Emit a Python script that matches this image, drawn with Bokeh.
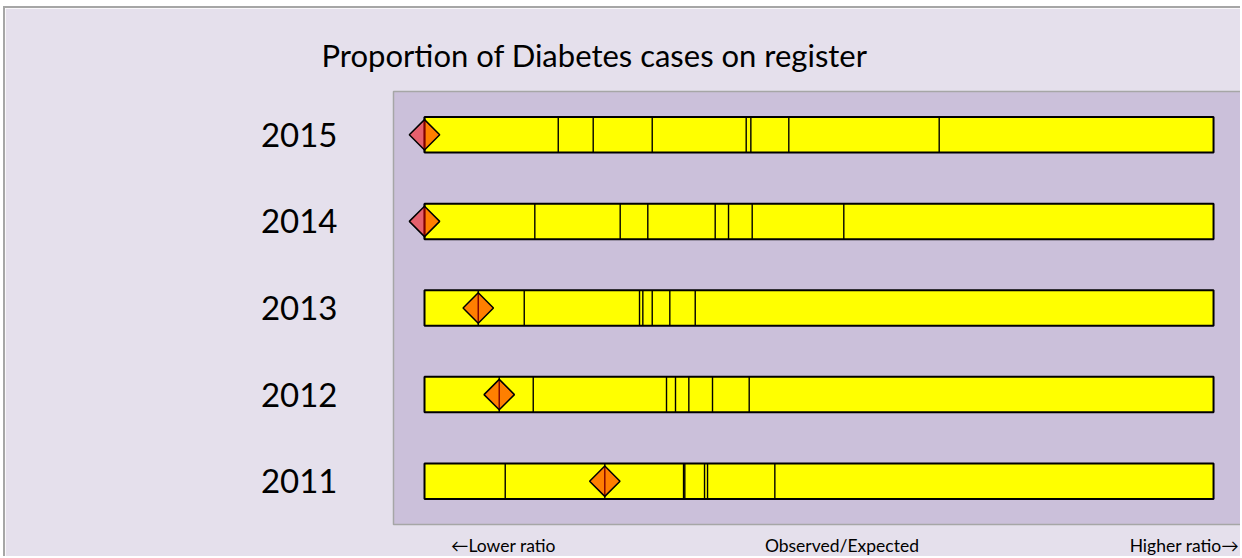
from math import pi
from bokeh.plotting import figure
from bokeh.models import Range1d, FixedTicker
from bokeh.embed import file_html
from bokeh.resources import INLINE

# ---- data (scale: 0 = left end of bar, 100 = right end) ----
years = [2015, 2014, 2013, 2012, 2011]
year_labels = ["2015", "2014", "2013", "2012", "2011"]
bar_start = [0, 0, 0, 0, 0]
bar_end = [100, 100, 100, 100, 100]
bounds_2015 = [16.95, 21.38, 28.86, 40.77, 41.36, 46.17, 65.23]
bounds_2014 = [13.98, 24.80, 28.30, 36.84, 38.53, 41.53, 53.14]
bounds_2013 = [12.64, 27.25, 27.67, 28.86, 31.09, 34.31]
bounds_2012 = [13.78, 30.67, 31.81, 33.50, 36.50, 41.15]
bounds_2011 = [10.23, 32.83, 32.99, 35.49, 35.87, 44.40]
observed = [0.0, 0.0, 6.81, 9.47, 22.85]

title_text = "Proportion of Diabetes cases on register"
note_labels = ["\u2190Lower ratio", "Observed/Expected", "Higher ratio\u2192"]
note_pos = [10.0, 52.9, 96.3]

FONT = "Lato"
BAR_H = 0.41

p = figure(width=1237, height=550, output_backend="svg", toolbar_location=None,
           x_range=Range1d(-3.93, 103.67), y_range=Range1d(2010.5, 2015.5),
           min_border_left=388, min_border_right=0, min_border_top=83,
           min_border_bottom=31, title=title_text)
p.margin = (6, 0, 0, 3)
p.styles = {"border-top": "2px solid #A6A6A6", "border-left": "2px solid #A6A6A6"}
p.background_fill_color = "#CBC0DA"
p.border_fill_color = "#E5E0EC"
p.outline_line_color = "#A6A6A6"
p.outline_line_width = 1.5
p.xgrid.visible = False
p.ygrid.visible = False

p.title.text_font = FONT
p.title.text_font_size = "31px"
p.title.text_font_style = "normal"
p.title.text_color = "black"
p.title.align = "left"
p.title.offset = -72
p.title.standoff = 36

ya = p.yaxis[0]
ya.ticker = FixedTicker(ticks=years)
ya.major_label_overrides = {y: l for y, l in zip(years, year_labels)}
ya.axis_line_color = None
ya.major_tick_line_color = None
ya.minor_tick_line_color = None
ya.major_tick_out = 0
ya.major_tick_in = 0
ya.major_label_standoff = 56
ya.major_label_text_font = FONT
ya.major_label_text_font_size = "33px"
ya.major_label_text_color = "black"

xa = p.xaxis[0]
xa.ticker = FixedTicker(ticks=note_pos)
xa.major_label_overrides = {x: l for x, l in zip(note_pos, note_labels)}
xa.axis_line_color = None
xa.major_tick_line_color = None
xa.minor_tick_line_color = None
xa.major_tick_out = 0
xa.major_tick_in = 0
xa.major_label_standoff = 10
xa.major_label_text_font = FONT
xa.major_label_text_font_size = "17.5px"
xa.major_label_text_color = "black"

# bars
p.hbar(y=years, left=bar_start, right=bar_end, height=BAR_H,
       fill_color="#FFFF00", line_color="black", line_width=2)

# dividers
all_bounds = [bounds_2015, bounds_2014, bounds_2013, bounds_2012, bounds_2011]
xs, y0s, y1s = [], [], []
for yr, bnds, obs in zip(years, all_bounds, observed):
    for b in list(bnds) + [obs]:
        xs.append(b)
        y0s.append(yr - BAR_H / 2)
        y1s.append(yr + BAR_H / 2)
p.segment(x0=xs, x1=xs, y0=y0s, y1=y1s, line_color="black", line_width=1.4)

# observed marker
p.scatter(x=observed, y=years, marker="square", angle=pi / 4, size=21.5,
          fill_color="#FF0000", fill_alpha=0.5, line_color="black", line_width=1.5)

open("out.html", "w").write(file_html(p, INLINE))
